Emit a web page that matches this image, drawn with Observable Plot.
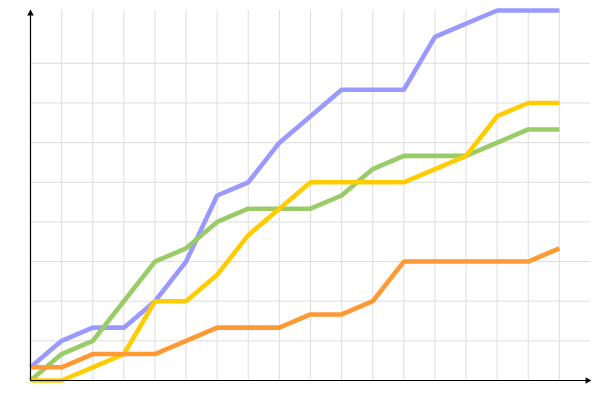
<!DOCTYPE html>
<html>
<head>
<meta charset="utf-8">
<script src="https://cdn.jsdelivr.net/npm/d3@7"></script>
<script src="https://cdn.jsdelivr.net/npm/@observablehq/plot@0.6"></script>
<style>
  html, body { margin: 0; padding: 0; background: #fff; }
</style>
</head>
<body>
<div id="chart"></div>
<script>
const steps = [0,1,2,3,4,5,6,7,8,9,10,11,12,13,14,15,16,17];
const seriesA = [1,3,4,4,6,9,14,15,18,20,22,22,22,26,27,28,28,28];
const seriesB = [0,2,3,6,9,10,12,13,13,13,14,16,17,17,17,18,19,19];
const seriesC = [0,0,1,2,6,6,8,11,13,15,15,15,15,16,17,20,21,21];
const seriesD = [1,1,2,2,2,3,4,4,4,5,5,6,9,9,9,9,9,10];
const seriesNames = ["Series A","Series B","Series C","Series D"];
const seriesColors = ["#9999ff","#99cc66","#ffcc00","#ff9933"];
const xGrid = [1,2,3,4,5,6,7,8,9,10,11,12,13,14,15,16,17];
const yGrid = [3,6,9,12,15,18,21,24];

const seriesValues = [seriesA, seriesB, seriesC, seriesD];
const rows = [];
seriesNames.forEach((name, si) => {
  steps.forEach((s, i) => rows.push({series: name, x: s, y: seriesValues[si][i]}));
});

const chart = Plot.plot({
  width: 600,
  height: 400,
  marginLeft: 30,
  marginRight: 10,
  marginTop: 10,
  marginBottom: 20,
  x: {domain: [0, 18], axis: null},
  y: {domain: [0, 28], axis: null},
  color: {domain: seriesNames, range: seriesColors},
  marks: [
    Plot.ruleX(xGrid, {stroke: "#dddddd", strokeOpacity: 1, strokeWidth: 1}),
    Plot.ruleY(yGrid, {stroke: "#dddddd", strokeOpacity: 1, strokeWidth: 1}),
    Plot.line(rows, {x: "x", y: "y", z: "series", stroke: "series", strokeWidth: 4.6, strokeLinejoin: "miter", strokeLinecap: "butt"}),
    Plot.ruleY([0], {stroke: "#000", strokeWidth: 1.2}),
    Plot.ruleX([0], {stroke: "#000", strokeWidth: 1.2}),
    Plot.dot([{x: 0, y: 28}], {x: "x", y: "y", symbol: "triangle2", r: 3.2, fill: "#000", stroke: "none", dy: 3}),
    Plot.dot([{x: 18, y: 0}], {x: "x", y: "y", symbol: "triangle2", r: 3.2, fill: "#000", stroke: "none", rotate: 90, dx: -3})
  ]
});
document.getElementById("chart").appendChild(chart);
</script>
</body>
</html>
